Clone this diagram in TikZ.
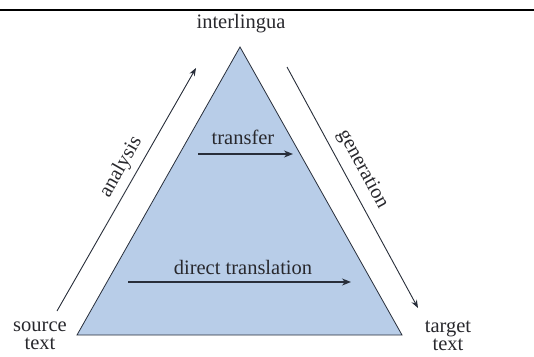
\documentclass[tikz,border=0pt]{standalone}
\usepackage{fontspec}
\setmainfont{Liberation Serif}
\usetikzlibrary{arrows.meta}
\definecolor{tri}{RGB}{184,205,232}
\definecolor{ink}{RGB}{40,46,58}
\definecolor{txt}{RGB}{40,40,45}
\begin{document}
\begin{tikzpicture}[x=1pt,y=-1pt,
  lbl/.style={text=txt,font=\fontsize{20.5}{21}\selectfont,inner sep=1pt},
  arr/.style={draw=ink,line width=0.9pt,-{Stealth[length=8pt,width=6pt]}},
  inarr/.style={draw=ink,line width=1.3pt,-{Stealth[length=9pt,width=7pt]}}]
\useasboundingbox (0,0) rectangle (534,356);
\draw[line width=1.6pt,black] (0,10) -- (534,10);
% triangle
\coordinate (apex) at (240,47);
\coordinate (bl) at (77,335);
\coordinate (br) at (402,335);
\filldraw[fill=tri,draw=ink,line width=0.8pt] (apex) -- (bl) -- (br) -- cycle;
% labels
\node[lbl] (inter) at (241,24) {interlingua};
\node[lbl,align=center] (src) at (40,336) {source\\[-3pt]text};
\node[lbl,align=center] (tgt) at (448,336) {target\\[-3pt]text};
\node[lbl] (transfer) at (243,137) {transfer};
\node[lbl] (direct) at (243,267) {direct translation};
% side arrows
\coordinate (a0) at (57,311);
\coordinate (a1) at (196,68);
\draw[arr] (a0) -- node[lbl,sloped,above=5pt,pos=0.56] (analysis) {analysis} (a1);
\coordinate (g0) at (287,67);
\coordinate (g1) at (418,308);
\draw[arr] (g0) -- node[lbl,sloped,above=7pt,pos=0.46] (generation) {generation} (g1);
% inner arrows
\coordinate (t0) at (198,154);
\coordinate (t1) at (293,154);
\draw[inarr] (t0) -- (t1);
\coordinate (d0) at (128,282);
\coordinate (d1) at (351,282);
\draw[inarr] (d0) -- (d1);
\end{tikzpicture}
\end{document}
